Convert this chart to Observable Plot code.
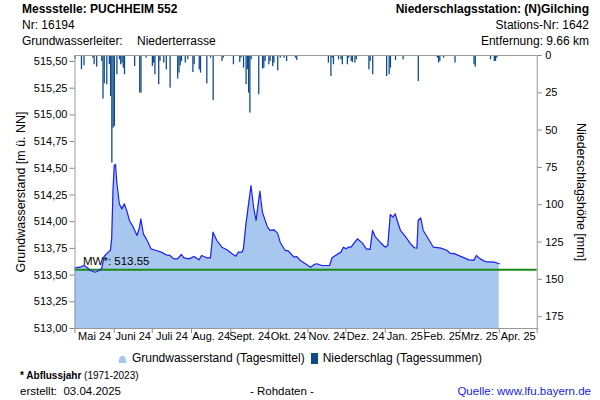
<!DOCTYPE html>
<html><head><meta charset="utf-8">
<script src="https://cdn.jsdelivr.net/npm/d3@7"></script>
<script src="https://cdn.jsdelivr.net/npm/@observablehq/plot@0.6"></script>
<style>
body{margin:0;background:#fff;font-family:"Liberation Sans",Arial,sans-serif;}
#wrap{position:relative;width:600px;height:400px;overflow:hidden;background:#fff;}
#wrap svg.plot{position:absolute;left:0;top:0;}
.t{position:absolute;font-size:12px;line-height:14px;color:#000;white-space:nowrap;}
.b{font-weight:bold;}
.r{text-align:right;}
#legend{position:absolute;left:0;width:600px;top:351px;display:flex;justify-content:center;align-items:center;font-size:12px;line-height:14px;white-space:nowrap;}
#legend .sw{display:inline-block;margin-right:5px;}
</style></head><body>
<div id="wrap">
  <div class="t b" style="left:22px;top:2px;">Messstelle: PUCHHEIM 552</div>
  <div class="t" style="left:22px;top:18px;">Nr: 16194</div>
  <div class="t" style="left:22px;top:34px;">Grundwasserleiter:</div>
  <div class="t" style="left:137px;top:34px;">Niederterrasse</div>
  <div class="t b r" style="right:11px;top:2px;">Niederschlagsstation: (N)Gilching</div>
  <div class="t r" style="right:11px;top:18px;">Stations-Nr: 1642</div>
  <div class="t r" style="right:11px;top:34px;">Entfernung: 9.66 km</div>
  <div id="legend">
    <svg class="sw" width="9" height="9" viewBox="0 0 9 9"><path d="M0.5,9 L1.5,3.5 Q4.5,0 7.5,3.5 L8.5,9 Z" fill="#a7c7ee"/></svg><span style="margin-right:6px;">Grundwasserstand (Tagesmittel)</span>
    <svg class="sw" width="7" height="11" viewBox="0 0 7 11"><rect x="0" y="0" width="7" height="11" fill="#0c4a8a"/></svg><span>Niederschlag (Tagessummen)</span>
  </div>
  <div class="t" style="left:20px;top:370px;font-size:10px;line-height:12px;"><b>* Abflussjahr</b> (1971-2023)</div>
  <div class="t" style="left:20px;top:384px;font-size:11.5px;">erstellt:&nbsp; 03.04.2025</div>
  <div class="t" style="left:250px;top:384px;font-size:11.5px;">- Rohdaten -</div>
  <div class="t r" style="right:9px;top:384px;font-size:11.5px;color:#1a1ae6;">Quelle: www.lfu.bayern.de</div>
</div>
<script>
// Groundwater level (daily mean), m ü. NN
const gwDates = [
"2024-05-01","2024-05-05","2024-05-08","2024-05-11","2024-05-13","2024-05-17","2024-05-20","2024-05-22","2024-05-24","2024-05-26","2024-05-28","2024-05-29","2024-05-30","2024-05-31",
"2024-06-01","2024-06-02","2024-06-03","2024-06-05","2024-06-07","2024-06-09","2024-06-11","2024-06-13","2024-06-16","2024-06-19","2024-06-21","2024-06-22","2024-06-24","2024-06-27","2024-06-30",
"2024-07-04","2024-07-08","2024-07-12","2024-07-15","2024-07-18","2024-07-21","2024-07-24","2024-07-26","2024-07-30",
"2024-08-03","2024-08-07","2024-08-09","2024-08-13","2024-08-16","2024-08-18","2024-08-21","2024-08-25","2024-08-29",
"2024-09-02","2024-09-05","2024-09-07","2024-09-10","2024-09-11","2024-09-13","2024-09-17","2024-09-19","2024-09-21","2024-09-24","2024-09-26","2024-09-30",
"2024-10-02","2024-10-05","2024-10-08","2024-10-10","2024-10-14","2024-10-16","2024-10-21","2024-10-23","2024-10-26","2024-10-30",
"2024-11-03","2024-11-06","2024-11-08","2024-11-12","2024-11-18","2024-11-20","2024-11-24","2024-11-27","2024-11-29",
"2024-12-01","2024-12-03","2024-12-05","2024-12-07","2024-12-10","2024-12-14","2024-12-17","2024-12-20","2024-12-22","2024-12-24","2024-12-28",
"2025-01-01","2025-01-03","2025-01-05","2025-01-07","2025-01-09","2025-01-10","2025-01-13","2025-01-17","2025-01-21","2025-01-24","2025-01-26","2025-01-27","2025-01-29","2025-01-31",
"2025-02-04","2025-02-08","2025-02-14","2025-02-19","2025-02-21","2025-02-25",
"2025-03-03","2025-03-08","2025-03-12","2025-03-14","2025-03-17","2025-03-21","2025-03-28","2025-04-01"];
const gwLevels = [
513.568,513.574,513.590,513.568,513.543,513.527,513.543,513.559,513.674,513.699,513.724,513.730,513.849,514.292,
514.526,514.536,514.370,514.167,514.120,514.167,514.098,514.011,513.949,513.871,513.949,514.027,513.886,513.824,513.746,
513.730,513.715,513.690,513.684,513.652,513.652,513.693,513.662,513.652,
513.674,513.643,513.684,513.662,513.662,513.902,513.824,513.761,513.737,
513.699,513.677,513.715,513.715,513.746,513.980,514.339,514.136,514.011,514.286,514.089,513.949,
513.918,513.924,513.893,513.808,513.730,513.730,513.668,513.674,513.637,513.606,
513.574,513.599,513.606,513.590,513.590,513.662,513.693,513.715,513.761,
513.746,513.761,513.761,513.793,513.840,513.799,513.746,513.740,513.918,513.861,513.808,
513.761,513.777,514.067,514.042,514.074,514.027,513.918,513.861,513.793,513.756,513.752,514.011,514.036,513.918,
513.840,513.761,513.752,513.730,513.705,513.699,
513.668,513.643,513.637,513.684,513.652,513.627,513.621,513.606];

// Precipitation (daily sums), mm
const rainDates = [
"2024-05-01","2024-05-06","2024-05-08","2024-05-15","2024-05-16","2024-05-18","2024-05-20","2024-05-22","2024-05-23","2024-05-24","2024-05-26","2024-05-28","2024-05-29","2024-05-30","2024-05-31",
"2024-06-01","2024-06-03","2024-06-05","2024-06-06","2024-06-07","2024-06-08","2024-06-09","2024-06-15","2024-06-17","2024-06-21","2024-06-22","2024-06-23","2024-06-26",
"2024-07-01","2024-07-02","2024-07-03","2024-07-04","2024-07-06","2024-07-07","2024-07-10","2024-07-12","2024-07-14","2024-07-15","2024-07-16","2024-07-21","2024-07-22","2024-07-23","2024-07-24","2024-07-27","2024-07-29","2024-07-31",
"2024-08-02","2024-08-03","2024-08-07","2024-08-08","2024-08-13","2024-08-16","2024-08-18","2024-08-21","2024-08-25","2024-08-26",
"2024-09-02","2024-09-03","2024-09-08","2024-09-09","2024-09-11","2024-09-13","2024-09-14","2024-09-15","2024-09-16","2024-09-17","2024-09-23","2024-09-26","2024-09-27","2024-09-28",
"2024-10-01","2024-10-02","2024-10-04","2024-10-05","2024-10-08","2024-10-10","2024-10-13","2024-10-15","2024-10-22","2024-10-23",
"2024-11-11","2024-11-14","2024-11-17","2024-11-19","2024-11-20","2024-11-21","2024-11-25","2024-11-27","2024-11-28",
"2024-12-02","2024-12-03","2024-12-05","2024-12-06","2024-12-08","2024-12-09","2024-12-19","2024-12-20","2024-12-22","2024-12-23",
"2025-01-02","2025-01-04","2025-01-05","2025-01-06","2025-01-09","2025-01-15","2025-01-27",
"2025-02-11","2025-02-12","2025-02-13","2025-02-16","2025-02-25","2025-02-26",
"2025-03-12","2025-03-13","2025-03-15","2025-03-23","2025-03-25","2025-03-28","2025-03-29","2025-03-30"];
const rainMm = [
2.4,9.6,6.9,1.8,6.2,7.8,0.7,4.0,29.2,19.0,19.6,6.2,27.5,72.1,48.7,
47.6,12.9,2.9,6.2,5.1,8.5,12.9,0.7,7.4,25.2,25.2,0.7,1.8,
7.4,5.1,12.9,0.7,19.6,4.0,5.1,9.6,0.7,21.9,0.7,15.8,11.8,6.9,4.0,5.1,2.9,0.7,
11.4,6.2,9.6,11.8,19.0,1.8,30.2,0.7,4.0,1.8,
0.7,6.2,4.7,1.8,8.5,19.6,9.6,25.2,38.6,2.9,26.3,9.1,8.5,4.0,
6.2,4.0,7.4,5.1,10.3,1.8,1.8,4.0,1.8,3.3,
0.7,0.7,5.1,14.1,1.8,6.2,2.9,2.9,6.2,
6.2,1.8,4.0,4.7,5.1,2.9,9.6,4.0,12.9,0.7,
14.1,12.9,8.5,0.7,3.3,2.9,17.4,
1.8,5.1,4.0,1.8,5.1,0.7,
6.2,7.8,0.7,0.7,2.9,4.0,4.0,1.8];

// Axis ticks and labels
const monthStarts = ["2024-05-01","2024-06-01","2024-07-01","2024-08-01","2024-09-01","2024-10-01","2024-11-01","2024-12-01","2025-01-01","2025-02-01","2025-03-01","2025-04-01","2025-05-01"];
const monthLabels = ["Mai 24","Juni 24","Juli 24","Aug. 24","Sept. 24","Okt. 24","Nov. 24","Dez. 24","Jan. 25","Feb. 25","Mrz. 25","Apr. 25"];
const levelTicks = [513, 513.25, 513.5, 513.75, 514, 514.25, 514.5, 514.75, 515, 515.25, 515.5];
const rainTicks = [0, 25, 50, 75, 100, 125, 150, 175];
const meanLevel = 513.55;

// Secondary axis mapping (mm hanging from top onto the level scale)
const yBottom = 513, yTop = 515.556;
const mPerMm = 0.01397;
const toLevel = mm => yTop - mm * mPerMm;

const parse = d3.utcParse("%Y-%m-%d");
const gw = gwDates.map((d, i) => ({date: parse(d), level: gwLevels[i]}));
const rain = rainDates.map((d, i) => ({x1: parse(d), x2: d3.utcDay.offset(parse(d), 1), top: yTop, bottom: toLevel(rainMm[i])}));
const months = monthStarts.map(parse);
const mids = monthLabels.map((l, i) => ({label: l, date: new Date((months[i].getTime() + months[i + 1].getTime()) / 2)}));

const font = "Liberation Sans, Arial, sans-serif";
const chart = Plot.plot({
  width: 600, height: 400,
  marginTop: 55, marginBottom: 72, marginLeft: 74.5, marginRight: 63.3,
  style: {fontFamily: font, fontSize: "11px", background: "transparent", color: "#000"},
  x: {type: "utc", domain: [months[0], months[12]]},
  y: {domain: [yBottom, yTop]},
  marks: [
    Plot.areaY(gw, {x: "date", y1: yBottom, y2: "level", fill: "#a7c7ee"}),
    Plot.ruleY([meanLevel], {stroke: "#1b8a1b", strokeWidth: 2}),
    Plot.lineY(gw, {x: "date", y: "level", stroke: "#1f1ff5", strokeWidth: 1.2}),
    Plot.rect(rain, {x1: "x1", x2: "x2", y1: "top", y2: "bottom", fill: "#0c4a8a"}),
    Plot.text([meanLevel], {y: d => d, text: d => "MW*: " + d.toFixed(2), frameAnchor: "left", textAnchor: "start", dx: 8, dy: -8, fontSize: 11.5, fill: "#000"}),
    Plot.axisY({anchor: "left", ticks: levelTicks, tickFormat: d => d.toFixed(2).replace(".", ","), tickSize: 5, tickPadding: 2.5, label: null, stroke: "#888", fontSize: 11}),
    Plot.axisY({anchor: "right", ticks: rainTicks.map(toLevel), tickFormat: d => String(Math.round((yTop - d) / mPerMm)), tickSize: 4, tickPadding: 4, label: null, stroke: "#888", fontSize: 11}),
    Plot.axisX({ticks: months, tickFormat: () => "", tickSize: 5, label: null, stroke: "#888"}),
    Plot.text(mids, {x: "date", text: "label", frameAnchor: "bottom", dy: 11, fontSize: 11, fill: "#000"}),
    Plot.frame({stroke: "#999"}),
    Plot.text(["Grundwasserstand [m ü. NN]"], {frameAnchor: "left", textAnchor: "middle", rotate: -90, dx: -54.5, fontSize: 12.5, fill: "#000"}),
    Plot.text(["Niederschlagshöhe [mm]"], {frameAnchor: "right", textAnchor: "middle", rotate: 90, dx: 43.5, fontSize: 12.5, fill: "#000"})
  ]
});
chart.classList.add("plot");
const wrap = document.getElementById("wrap");
wrap.insertBefore(chart, wrap.firstChild);
</script>
</body></html>
